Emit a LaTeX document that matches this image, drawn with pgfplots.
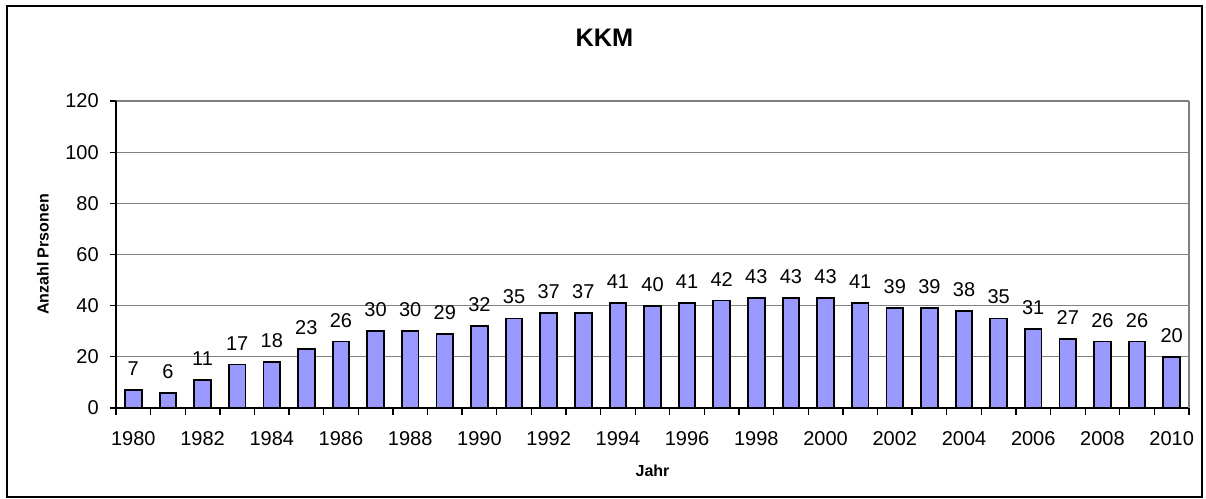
\documentclass[border=0pt]{standalone}
\usepackage{pgfplots}
\pgfplotsset{compat=1.18}
\usepackage{fontspec}
\setmainfont{Liberation Sans}
\definecolor{barblue}{HTML}{9999FF}
\begin{document}
\begin{tikzpicture}[x=0.75pt,y=0.75pt]
\useasboundingbox (-116,-91) rectangle (1090,408);
\draw[line width=1.1pt] (-109,-89) rectangle (1086,402);
\node[font=\fontsize{19pt}{21pt}\selectfont\bfseries] at (488.5,370) {KKM};
\begin{axis}[
  at={(0,0)}, anchor=south west,
  scale only axis,
  width=804.75pt, height=230.25pt,
  xmin=-0.5, xmax=30.5,
  ymin=0, ymax=120,
  axis x line*=bottom, axis y line*=left,
  axis line style={line width=1pt, black, -},
  ytick={0,20,...,120},
  ymajorgrids,
  major grid style={gray, line width=0.8pt},
  xtick={0,2,...,30},
  xticklabels={1980,1982,1984,1986,1988,1990,1992,1994,1996,1998,2000,2002,2004,2006,2008,2010},
  minor xtick={-0.5,0.5,...,30.5},
  major x tick style={draw=none},
  minor x tick style={draw=black, line width=1pt},
  minor tick length=5pt,
  y tick style={black, line width=0.8pt},
  major tick length=4.5pt,
  tick align=outside,
  tick label style={font=\fontsize{15pt}{17pt}\selectfont},
  /pgf/number format/assume math mode=true,
  yticklabel style={anchor=east, inner sep=0pt, xshift=-8.25pt},
  xticklabel style={anchor=north, inner sep=0pt, yshift=-13pt},
  xlabel={Jahr},
  ylabel={Anzahl Prsonen},
  label style={font=\fontsize{12pt}{14pt}\selectfont\bfseries},
  xlabel style={at={(axis description cs:0.5,0)}, anchor=center, yshift=-47.25pt},
  ylabel style={at={(axis description cs:0,0.5)}, anchor=center, yshift=54.75pt},
  ybar, bar width=0.48,
  nodes near coords,
  every node near coord/.append style={font=\fontsize{15pt}{17pt}\selectfont, anchor=south, inner sep=0pt, yshift=10pt},
  clip=false,
]
\addplot[fill=barblue, draw=black, line width=1.4pt] coordinates {
(0,7) (1,6) (2,11) (3,17) (4,18) (5,23) (6,26) (7,30) (8,30) (9,29)
(10,32) (11,35) (12,37) (13,37) (14,41) (15,40) (16,41) (17,42) (18,43) (19,43)
(20,43) (21,41) (22,39) (23,39) (24,38) (25,35) (26,31) (27,27) (28,26) (29,26) (30,20)};
\draw[gray, line width=0.8pt] (rel axis cs:1,0) -- (rel axis cs:1,1);
\end{axis}
\end{tikzpicture}
\end{document}
